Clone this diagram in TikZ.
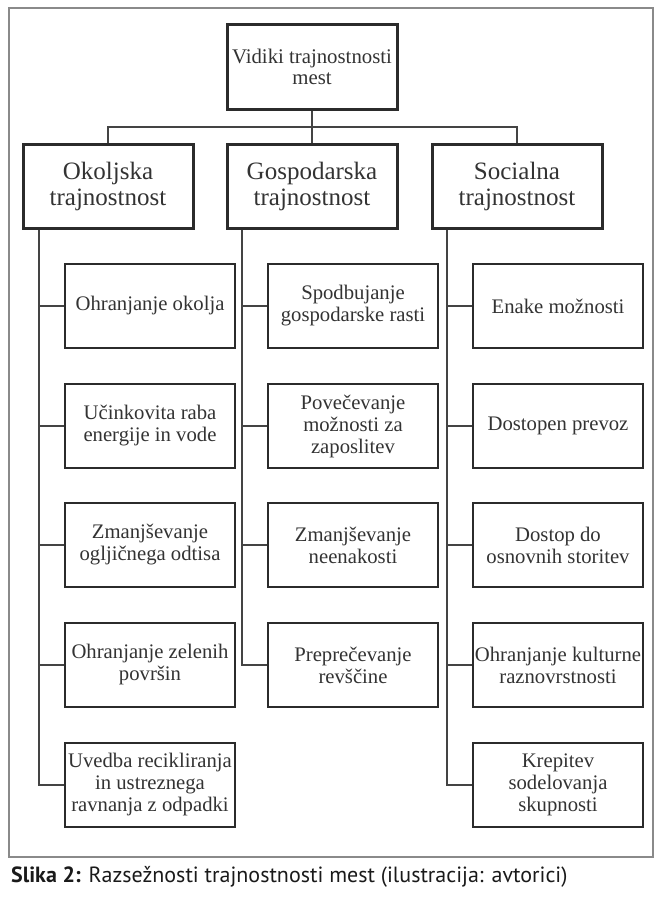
\documentclass[tikz,border=0pt]{standalone}
\usepackage{fontspec}
\setmainfont{Liberation Serif}
\newfontfamily\capfont{PT Sans}
\usepackage{xcolor}
\usepackage{tikz}
\usetikzlibrary{positioning}
\definecolor{boxline}{HTML}{2b2b2b}
\definecolor{linkline}{HTML}{444444}
\definecolor{boxtext}{HTML}{333333}
\definecolor{framegray}{HTML}{8a8a8a}
\definecolor{captext}{HTML}{1a1a1a}

\begin{document}
\begin{tikzpicture}[x=1pt, y=-1pt,
    headbox/.style={draw=boxline, line width=3pt, minimum width=170pt, minimum height=85pt,
      inner sep=0pt, align=center, text=boxtext, font=\fontsize{20.8}{21}\selectfont},
    dimbox/.style={draw=boxline, line width=3pt, minimum width=170pt, minimum height=84pt,
      inner sep=0pt, align=center, text=boxtext, font=\fontsize{25}{26}\selectfont},
    itembox/.style={draw=boxline, line width=2.6pt, minimum width=170pt, minimum height=84pt,
      inner sep=0pt, align=center, text=boxtext, font=\fontsize{20.7}{22}\selectfont},
    link/.style={draw=linkline, line width=2pt}]

  \useasboundingbox (0,0) rectangle (661,898);

  % ================= OUTER FRAME =================
  \draw[framegray, line width=1.5pt] (9,8) rectangle (653,857);

  % ================= TOP AND DIMENSIONS =================
  \node[headbox] (top) at (312,66.5) {Vidiki trajnostnosti\\mest};

  \node[dimbox] (env)  at (108,186) {Okoljska\\trajnostnost};
  \node[dimbox] (econ) at (312,186) {Gospodarska\\trajnostnost};
  \node[dimbox] (soc)  at (517,186) {Socialna\\trajnostnost};

  % Bus
  \coordinate (bus) at (312,127);
  \draw[link] (top.south) -- (econ.north);
  \draw[link] (env.north) -- (env.north |- bus) -- (soc.north |- bus) -- (soc.north);

  % ================= ENVIRONMENTAL =================
  \node[itembox] (env1) at (150,306) {Ohranjanje okolja};
  \node[itembox] (env2) at (150,426) {Učinkovita raba\\energije in vode};
  \node[itembox] (env3) at (150,545) {Zmanjševanje\\ogljičnega odtisa};
  \node[itembox] (env4) at (150,665) {Ohranjanje zelenih\\površin};
  \node[itembox] (env5) at (150,785) {Uvedba recikliranja\\in ustreznega\\ravnanja z odpadki};

  % ================= ECONOMIC =================
  \node[itembox] (econ1) at (353,306) {Spodbujanje\\gospodarske rasti};
  \node[itembox] (econ2) at (353,426) {Povečevanje\\možnosti za\\zaposlitev};
  \node[itembox] (econ3) at (353,545) {Zmanjševanje\\neenakosti};
  \node[itembox] (econ4) at (353,665) {Preprečevanje\\revščine};

  % ================= SOCIAL =================
  \node[itembox] (soc1) at (558,306) {Enake možnosti};
  \node[itembox] (soc2) at (558,426) {Dostopen prevoz};
  \node[itembox] (soc3) at (558,545) {Dostop do\\osnovnih storitev};
  \node[itembox] (soc4) at (558,665) {Ohranjanje kulturne\\raznovrstnosti};
  \node[itembox] (soc5) at (558,785) {Krepitev\\sodelovanja\\skupnosti};

  % Trunks
  \coordinate (envtrunk)  at ([xshift=17pt]env.south west);
  \coordinate (econtrunk) at ([xshift=16pt]econ.south west);
  \coordinate (soctrunk)  at ([xshift=16pt]soc.south west);

  \draw[link] (envtrunk) |- (env5.west);
  \foreach \i in {1,...,4}
    \draw[link] (env\i.west -| envtrunk) -- (env\i.west);

  \draw[link] (econtrunk) |- (econ4.west);
  \foreach \i in {1,...,3}
    \draw[link] (econ\i.west -| econtrunk) -- (econ\i.west);

  \draw[link] (soctrunk) |- (soc5.west);
  \foreach \i in {1,...,4}
    \draw[link] (soc\i.west -| soctrunk) -- (soc\i.west);

  % ================= CAPTION =================
  \node[anchor=base west, inner sep=0pt, text=captext, font=\capfont\fontsize{22}{24}\selectfont] (caption)
    at (11,882) {\textbf{Slika 2:} Razsežnosti trajnostnosti mest (ilustracija: avtorici)};

\end{tikzpicture}
\end{document}
